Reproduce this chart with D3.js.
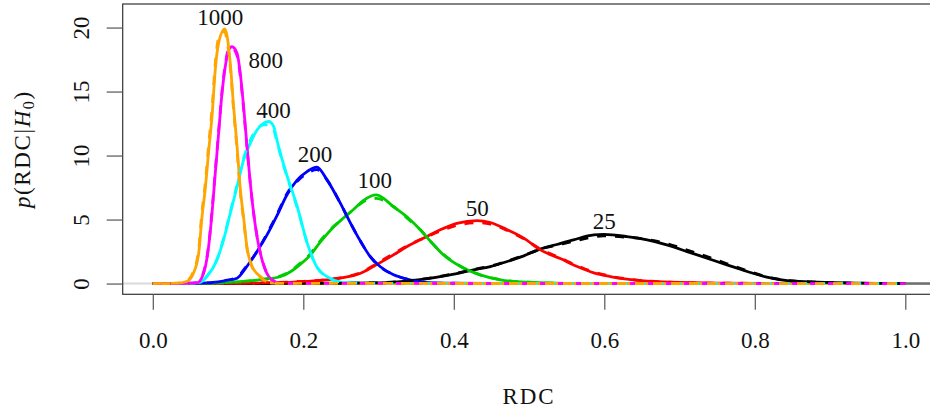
<!DOCTYPE html>
<html>
<head>
<meta charset="utf-8">
<script src="https://cdn.jsdelivr.net/npm/d3@7/dist/d3.min.js"></script>
<style>
  html, body { margin: 0; padding: 0; background: #fff; }
  svg { display: block; }
  text { font-family: "Liberation Serif", "DejaVu Serif", serif; fill: #111; }
</style>
</head>
<body>
<svg id="chart" width="930" height="411"></svg>
<script>
// ---- data ----
const sampleSizes = ["25", "50", "100", "200", "400", "800", "1000"];
const seriesColors = ["#000000", "#FF0000", "#00CD00", "#0000FF", "#00FFFF", "#FF00FF", "#FFA500"];

const x25 = [0, 0.200, 0.300, 0.355, 0.395, 0.426, 0.4485, 0.471, 0.493, 0.515, 0.537, 0.559, 0.586, 0.599, 0.630, 0.657, 0.683, 0.710, 0.7365, 0.763, 0.790, 0.816, 0.843, 0.874, 0.920, 1];
const solid25 = [0, 0.01, 0.05, 0.3, 0.68, 1.07, 1.33, 1.72, 2.16, 2.69, 3.05, 3.41, 3.8, 3.84, 3.67, 3.41, 3.02, 2.5, 1.98, 1.46, 0.94, 0.5, 0.23, 0.13, 0.05, 0];
const dashed25 = [0, 0.01, 0.06, 0.32, 0.7, 1.1, 1.36, 1.75, 2.2, 2.7, 3.0, 3.3, 3.65, 3.72, 3.62, 3.45, 3.12, 2.62, 2.1, 1.55, 1.0, 0.52, 0.24, 0.13, 0.05, 0];

const x50 = [0, 0.100, 0.150, 0.200, 0.230, 0.249, 0.276, 0.293, 0.316, 0.338, 0.360, 0.382, 0.404, 0.431, 0.4485, 0.471, 0.493, 0.515, 0.5415, 0.564, 0.586, 0.608, 0.630, 0.657, 0.687, 0.750, 1];
const solid50 = [0, 0.01, 0.05, 0.15, 0.28, 0.42, 0.8, 1.33, 2.1, 2.9, 3.55, 4.2, 4.7, 4.92, 4.77, 4.2, 3.55, 2.63, 1.95, 1.33, 0.84, 0.55, 0.34, 0.19, 0.1, 0.03, 0];
const dashed50 = [0, 0.01, 0.06, 0.17, 0.3, 0.45, 0.85, 1.4, 2.2, 2.95, 3.55, 4.1, 4.55, 4.75, 4.65, 4.15, 3.5, 2.7, 2.0, 1.4, 0.9, 0.58, 0.36, 0.2, 0.1, 0.03, 0];

const x100 = [0, 0.060, 0.100, 0.143, 0.170, 0.185, 0.196, 0.209, 0.222, 0.240, 0.253, 0.267, 0.280, 0.297, 0.320, 0.338, 0.3555, 0.369, 0.386, 0.409, 0.435, 0.462, 0.497, 0.550, 1];
const solid100 = [0, 0.01, 0.08, 0.3, 0.55, 1.0, 1.5, 2.2, 3.2, 4.4, 5.1, 5.8, 6.5, 6.93, 6.0, 5.2, 4.2, 3.3, 2.25, 1.33, 0.68, 0.29, 0.1, 0.02, 0];
const dashed100 = [0, 0.01, 0.09, 0.32, 0.6, 1.05, 1.6, 2.3, 3.3, 4.45, 5.1, 5.8, 6.4, 6.65, 6.0, 5.1, 4.2, 3.3, 2.3, 1.35, 0.68, 0.3, 0.1, 0.02, 0];

const x200 = [0, 0.050, 0.076, 0.095, 0.112, 0.125, 0.1385, 0.1518, 0.165, 0.178, 0.192, 0.205, 0.218, 0.2315, 0.249, 0.262, 0.276, 0.289, 0.302, 0.320, 0.338, 0.356, 0.380, 0.450, 1];
const solid200 = [0, 0.01, 0.05, 0.2, 0.42, 1.33, 2.5, 3.8, 5.3, 6.9, 8.1, 8.75, 9.1, 8.1, 6.3, 4.8, 3.3, 2.1, 1.33, 0.68, 0.34, 0.1, 0.03, 0.01, 0];
const dashed200 = [0, 0.01, 0.06, 0.22, 0.5, 1.4, 2.5, 3.9, 5.4, 7.0, 8.0, 8.6, 8.9, 8.1, 6.3, 4.8, 3.3, 2.1, 1.3, 0.7, 0.34, 0.1, 0.03, 0.01, 0];

const x400 = [0, 0.050, 0.063, 0.072, 0.0853, 0.094, 0.103, 0.112, 0.1207, 0.1296, 0.1385, 0.1473, 0.154, 0.1606, 0.165, 0.1694, 0.178, 0.192, 0.205, 0.218, 0.236, 0.258, 0.300, 1];
const solid400 = [0, 0.01, 0.1, 0.55, 1.85, 3.41, 5.5, 7.58, 9.66, 10.97, 12.0, 12.53, 12.66, 12.27, 11.2, 10.2, 8.5, 6.0, 3.2, 1.3, 0.4, 0.05, 0.01, 0];
const dashed400 = [0, 0.01, 0.12, 0.6, 1.9, 3.5, 5.6, 7.7, 9.8, 11.2, 12.1, 12.4, 12.4, 12.0, 11.1, 10.1, 8.4, 5.9, 3.2, 1.3, 0.4, 0.05, 0.01, 0];

const x800 = [0, 0.040, 0.0587, 0.0675, 0.0742, 0.0787, 0.083, 0.0875, 0.092, 0.0963, 0.1008, 0.1052, 0.112, 0.1163, 0.1207, 0.1252, 0.1296, 0.134, 0.1385, 0.1429, 0.1495, 0.158, 0.169, 0.200, 1];
const solid800 = [0, 0.01, 0.05, 0.81, 2.9, 5.5, 8.6, 11.75, 14.9, 16.95, 18.26, 18.5, 18.0, 16.4, 13.8, 10.7, 7.84, 5.5, 3.67, 2.37, 1.07, 0.29, 0.03, 0.01, 0];
const dashed800 = [0, 0.01, 0.08, 0.9, 3.0, 5.7, 8.8, 11.9, 15.0, 17.1, 18.3, 18.4, 17.8, 16.2, 13.6, 10.6, 7.8, 5.5, 3.7, 2.4, 1.1, 0.3, 0.04, 0.01, 0];

const x1000 = [0, 0.030, 0.045, 0.054, 0.061, 0.065, 0.070, 0.074, 0.079, 0.083, 0.0875, 0.0955, 0.0985, 0.103, 0.107, 0.112, 0.116, 0.121, 0.125, 0.132, 0.143, 0.156, 0.180, 1];
const solid1000 = [0, 0.02, 0.16, 0.81, 2.37, 4.98, 7.58, 10.19, 13.3, 16.7, 18.8, 19.9, 19.4, 17.2, 14.1, 10.7, 7.58, 4.98, 2.9, 1.33, 0.55, 0.05, 0.01, 0];
const dashed1000 = [0, 0.03, 0.2, 0.95, 2.7, 5.4, 8.0, 10.7, 13.9, 17.2, 19.2, 19.7, 19.0, 16.9, 13.8, 10.4, 7.3, 4.8, 2.8, 1.3, 0.5, 0.06, 0.01, 0];

const seriesX = [x25, x50, x100, x200, x400, x800, x1000];
const seriesSolid = [solid25, solid50, solid100, solid200, solid400, solid800, solid1000];
const seriesDashed = [dashed25, dashed50, dashed100, dashed200, dashed400, dashed800, dashed1000];

// label anchor points (data units)
const labelX = [0.600, 0.431, 0.295, 0.2155, 0.1605, 0.150, 0.0897];
const labelY = [4.87, 5.89, 8.1, 10.1, 13.57, 17.48, 20.8];

const xTicks = [0, 0.2, 0.4, 0.6, 0.8, 1.0];
const yTicks = [0, 5, 10, 15, 20];

// ---- drawing ----
const svg = d3.select("#chart");
const plotLeft = 122.7, plotTop = 4, plotBottom = 294.3;
const x = d3.scaleLinear().domain([-0.04, 1.04]).range([plotLeft, plotLeft + 1.08 * 752.5]);
const y = d3.scaleLinear().domain([-0.84, 21.84]).range([plotBottom, plotTop]);
const FS = 23;

// zero reference line
svg.append("line")
  .attr("x1", x(-0.04)).attr("x2", x(1.04))
  .attr("y1", y(0)).attr("y2", y(0))
  .attr("stroke", "#d9d9d9").attr("stroke-width", 2);
svg.append("line")
  .attr("x1", x(1)).attr("x2", x(1.04))
  .attr("y1", y(0)).attr("y2", y(0))
  .attr("stroke", "#6e6e6e").attr("stroke-width", 2.5);

const line = d3.line()
  .x(d => x(d[0])).y(d => y(d[1]))
  .curve(d3.curveMonotoneX);

const curves = svg.append("g");
seriesX.forEach((xs, i) => {
  curves.append("path")
    .attr("d", line(xs.map((v, j) => [v, seriesSolid[i][j]])))
    .attr("fill", "none").attr("stroke", seriesColors[i])
    .attr("stroke-width", 2.8).attr("stroke-linejoin", "round");
});
seriesX.forEach((xs, i) => {
  curves.append("path")
    .attr("d", line(xs.map((v, j) => [v, seriesDashed[i][j]])))
    .attr("fill", "none").attr("stroke", seriesColors[i])
    .attr("stroke-width", 2.8).attr("stroke-dasharray", "9,9");
});

// box
svg.append("rect")
  .attr("x", plotLeft).attr("y", plotTop)
  .attr("width", x(1.04) - plotLeft).attr("height", plotBottom - plotTop)
  .attr("fill", "none").attr("stroke", "#333").attr("stroke-width", 1.2);

// x axis
const xAxis = svg.append("g")
  .attr("transform", `translate(0,${plotBottom})`)
  .call(d3.axisBottom(x).tickValues(xTicks).tickFormat(d3.format(".1f")).tickSize(15.5).tickPadding(21.5));
xAxis.select(".domain").remove();
xAxis.selectAll(".tick line").attr("stroke", "#555").attr("stroke-width", 1.2);
xAxis.selectAll(".tick text").attr("font-size", FS).attr("font-family", "Liberation Serif").attr("fill", "#111");

// y axis
const yAxis = svg.append("g")
  .attr("transform", `translate(${plotLeft},0)`)
  .call(d3.axisLeft(y).tickValues(yTicks).tickFormat(d3.format("d")).tickSize(16));
yAxis.select(".domain").remove();
yAxis.selectAll(".tick line").attr("stroke", "#555").attr("stroke-width", 1.2);
yAxis.selectAll(".tick text")
  .attr("x", null).attr("dy", null)
  .attr("text-anchor", "middle")
  .attr("transform", `translate(${89 - plotLeft},0) rotate(-90)`)
  .attr("font-size", FS).attr("font-family", "Liberation Serif").attr("fill", "#111");

// axis titles
svg.append("text")
  .attr("x", (plotLeft + x(1.04)) / 2).attr("y", 403.5)
  .attr("text-anchor", "middle").attr("font-size", FS)
  .attr("letter-spacing", 2)
  .text("RDC");

const yt = svg.append("text")
  .attr("transform", `translate(29.5,${(plotTop + plotBottom) / 2}) rotate(-90)`)
  .attr("text-anchor", "middle").attr("font-size", FS)
  .attr("letter-spacing", 1.6);
yt.append("tspan").attr("font-style", "italic").text("p");
yt.append("tspan").text("(RDC|");
yt.append("tspan").attr("font-style", "italic").text("H");
yt.append("tspan").attr("font-size", 16).attr("dy", 4).text("0");
yt.append("tspan").attr("dy", -4).text(")");

// curve labels
svg.append("g").selectAll("text")
  .data(sampleSizes)
  .join("text")
  .attr("x", (d, i) => x(labelX[i]))
  .attr("y", (d, i) => y(labelY[i]))
  .attr("dy", "0.35em")
  .attr("text-anchor", "middle")
  .attr("font-size", FS)
  .text(d => d);
</script>
</body>
</html>
